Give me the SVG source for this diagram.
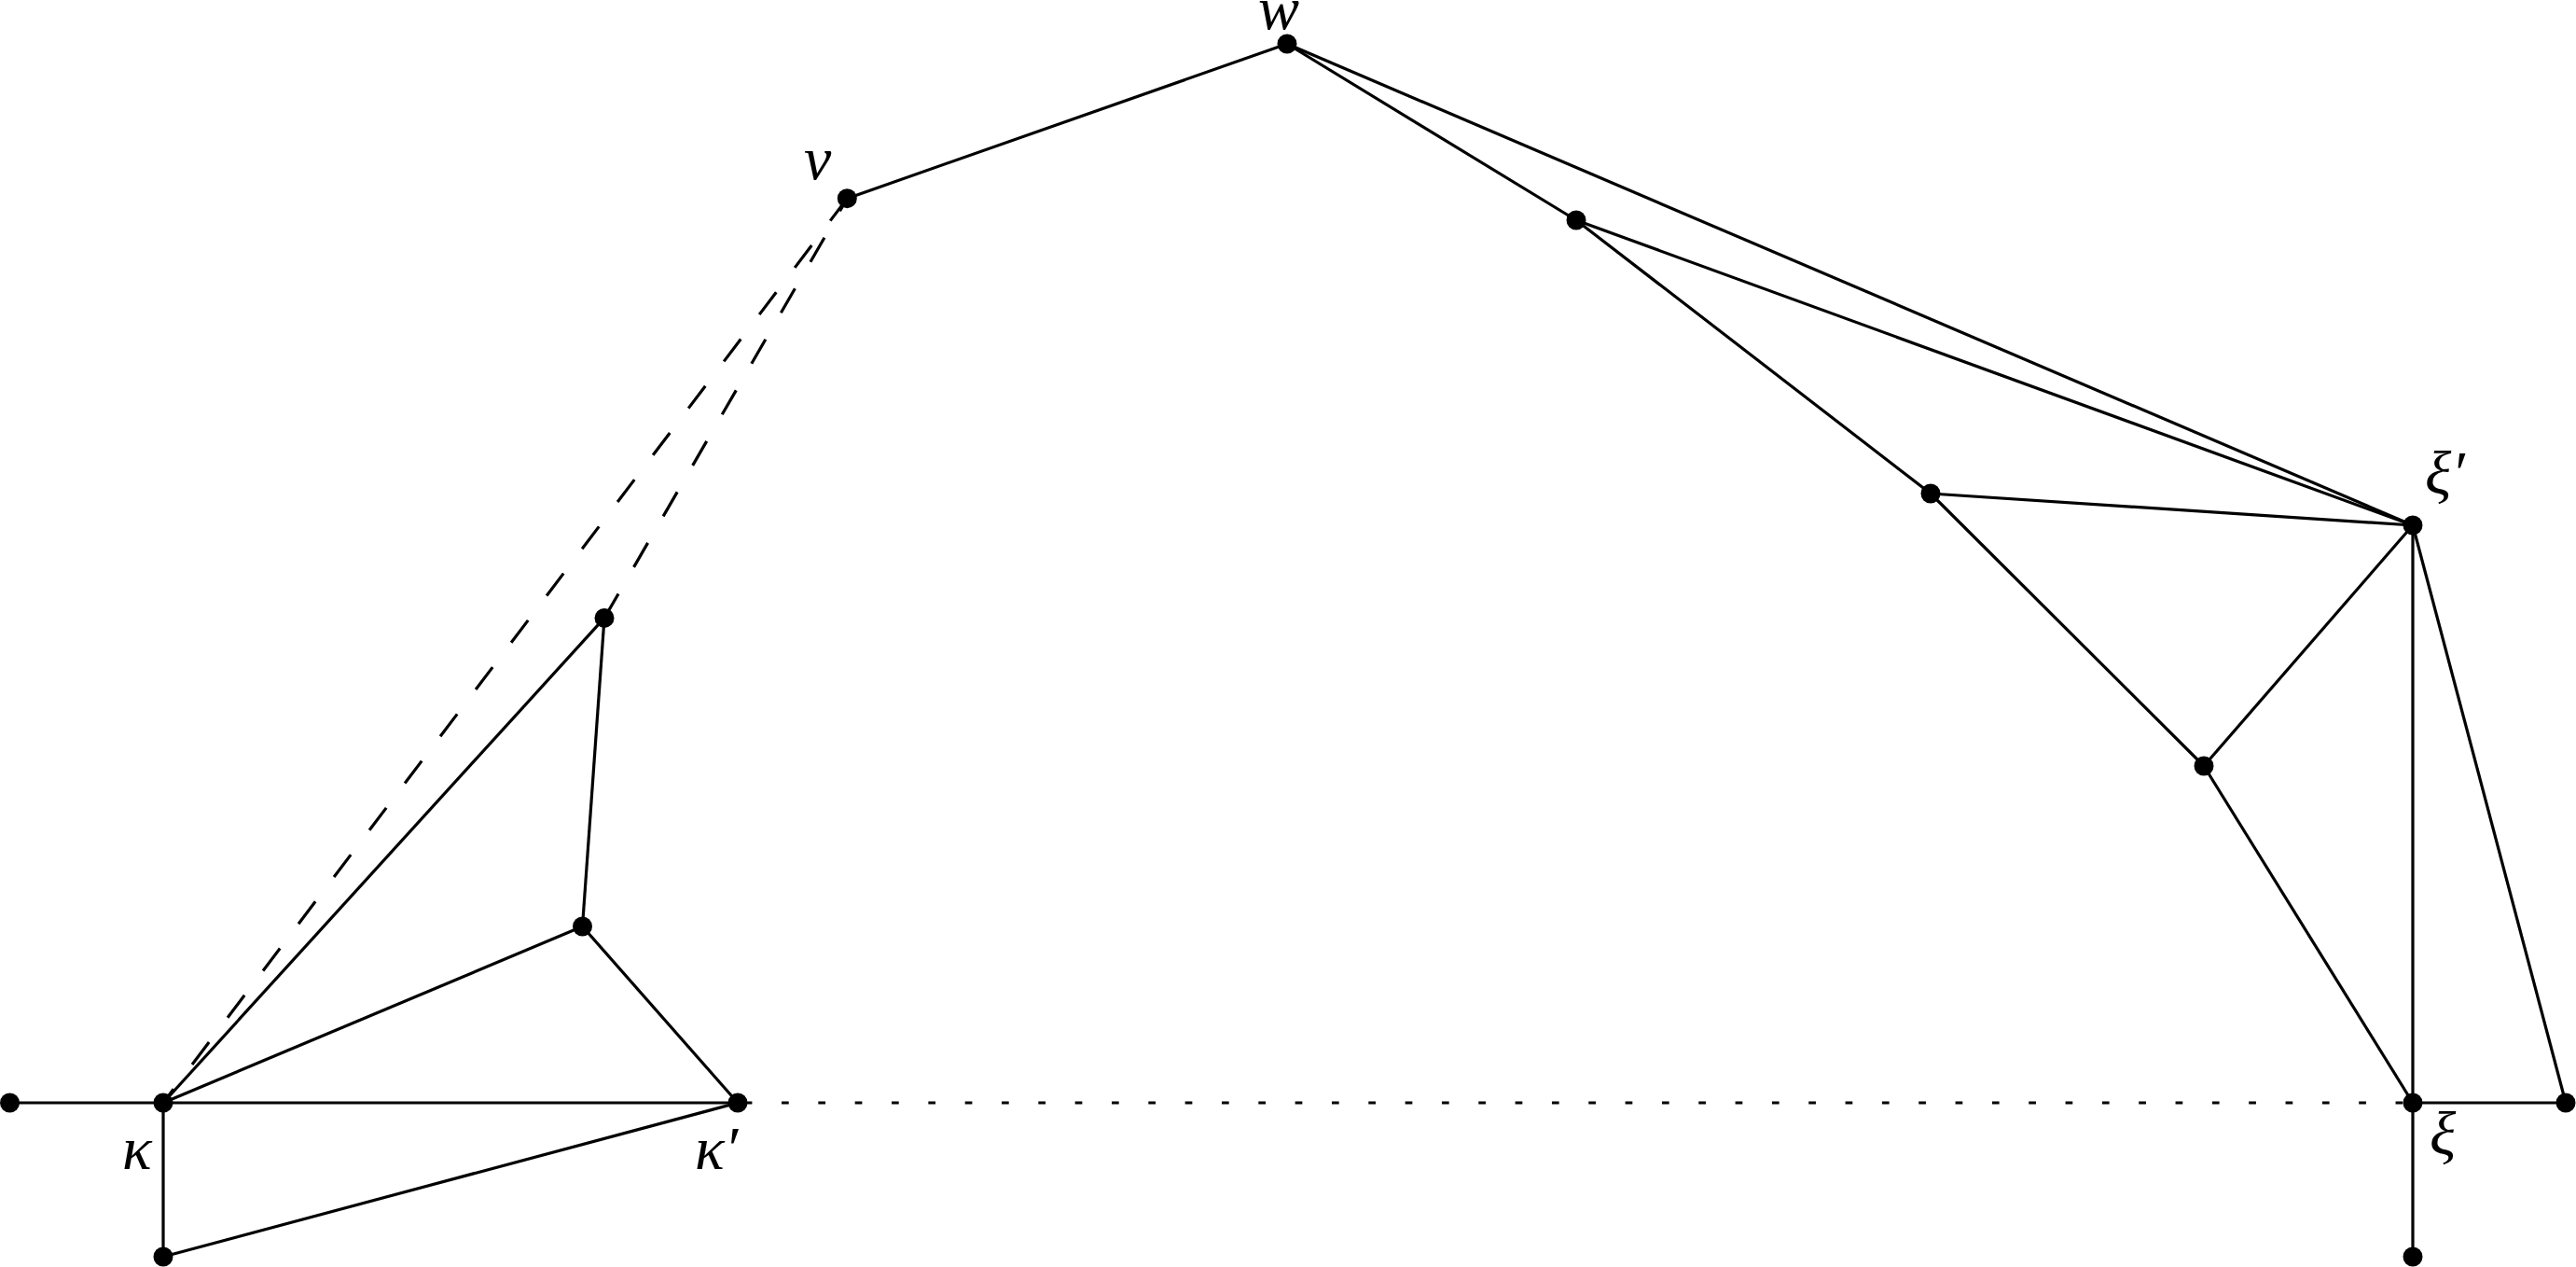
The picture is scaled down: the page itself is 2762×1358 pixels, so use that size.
<svg xmlns="http://www.w3.org/2000/svg" width="2762" height="1358" viewBox="0 0 2762 1358">
<style>
  .e { stroke: #000; stroke-width: 3.2; fill: none; }
  .dash { stroke: #000; stroke-width: 3.2; fill: none; stroke-dasharray: 30 33; }
  .dot { stroke: #000; stroke-width: 3.2; fill: none; stroke-dasharray: 7.7 31.63; }
  .n { fill: #000; }
  .lbl { font-family: "Liberation Serif", "DejaVu Serif", serif; font-style: italic; font-size: 66px; fill: #000; }
</style>
<rect width="2762" height="1358" fill="#fff"/>
<g id="connectors">
  <line class="e" x1="10.5" y1="1182" x2="175" y2="1182"/>
  <line class="e" x1="175" y1="1182" x2="791" y2="1182"/>
  <line class="dot" x1="798.7" y1="1182" x2="2587" y2="1182"/>
  <line class="e" x1="2587" y1="1182" x2="2751" y2="1182"/>
  <line class="e" x1="175" y1="1182" x2="175" y2="1347"/>
  <line class="e" x1="175" y1="1347" x2="791" y2="1182"/>
  <line class="e" x1="175" y1="1182" x2="624.5" y2="993"/>
  <line class="e" x1="624.5" y1="993" x2="791" y2="1182"/>
  <line class="e" x1="624.5" y1="993" x2="648" y2="662.4"/>
  <line class="e" x1="648" y1="662.4" x2="175" y2="1182"/>
  <line class="dash" x1="908.3" y1="212.7" x2="175" y2="1182"/>
  <line class="dash" x1="648" y1="662.4" x2="908.3" y2="212.7"/>
  <line class="e" x1="908.3" y1="212.7" x2="1380" y2="47"/>
  <line class="e" x1="1380" y1="47" x2="1690" y2="236"/>
  <line class="e" x1="1380" y1="47" x2="2587" y2="563"/>
  <line class="e" x1="1690" y1="236" x2="2587" y2="563"/>
  <line class="e" x1="1690" y1="236" x2="2070" y2="529"/>
  <line class="e" x1="2070" y1="529" x2="2587" y2="563"/>
  <line class="e" x1="2070" y1="529" x2="2363" y2="821"/>
  <line class="e" x1="2363" y1="821" x2="2587" y2="563"/>
  <line class="e" x1="2363" y1="821" x2="2587" y2="1182"/>
  <line class="e" x1="2587" y1="563" x2="2587" y2="1182"/>
  <line class="e" x1="2587" y1="563" x2="2751" y2="1182"/>
  <line class="e" x1="2587" y1="1182" x2="2587" y2="1347"/>
</g>
<g id="node-left"><circle class="n" cx="10.5" cy="1182" r="10.5"/></g>
<g id="node-kappa"><circle class="n" cx="175" cy="1182" r="10.5"/><text class="lbl" x="131" y="1253">κ</text></g>
<g id="node-kappa-bottom"><circle class="n" cx="175" cy="1347" r="10.5"/></g>
<g id="node-kappa-prime"><circle class="n" cx="791" cy="1182" r="10.5"/><text class="lbl" x="745" y="1253">κ′</text></g>
<g id="node-a"><circle class="n" cx="624.5" cy="993" r="10.5"/></g>
<g id="node-b"><circle class="n" cx="648" cy="662.4" r="10.5"/></g>
<g id="node-v"><circle class="n" cx="908.3" cy="212.7" r="10.5"/><text class="lbl" x="862" y="192">v</text></g>
<g id="node-w"><circle class="n" cx="1380" cy="47" r="10.5"/><text class="lbl" x="1349" y="31">w</text></g>
<g id="node-c"><circle class="n" cx="1690" cy="236" r="10.5"/></g>
<g id="node-d"><circle class="n" cx="2070" cy="529" r="10.5"/></g>
<g id="node-xi-prime"><circle class="n" cx="2587" cy="563" r="10.5"/><text class="lbl" x="2600" y="529">ξ′</text></g>
<g id="node-e"><circle class="n" cx="2363" cy="821" r="10.5"/></g>
<g id="node-xi"><circle class="n" cx="2587" cy="1182" r="10.5"/><text class="lbl" x="2605" y="1237">ξ</text></g>
<g id="node-xi-bottom"><circle class="n" cx="2587" cy="1347" r="10.5"/></g>
<g id="node-right"><circle class="n" cx="2751" cy="1182" r="10.5"/></g>
</svg>
